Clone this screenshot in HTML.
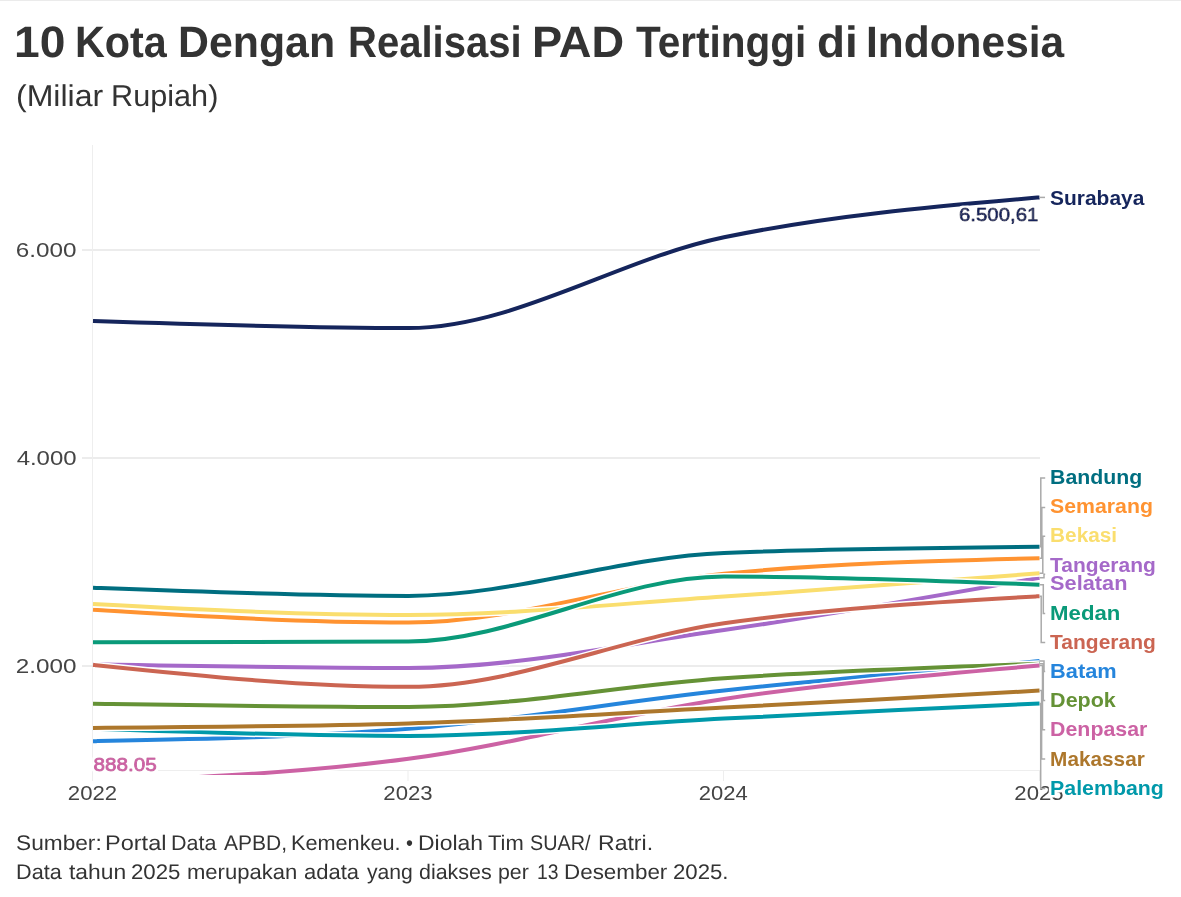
<!DOCTYPE html>
<html lang="id">
<head>
<meta charset="utf-8">
<title>10 Kota Dengan Realisasi PAD Tertinggi di Indonesia</title>
<style>
html,body{margin:0;padding:0;background:#fff;}
body{width:1181px;height:897px;overflow:hidden;position:relative;font-family:"Liberation Sans",sans-serif;color:#333;}
.topline{position:absolute;left:0;top:0;width:1181px;height:1px;background:#ebebeb;}
h1,.sub,.foot{text-rendering:geometricPrecision;position:absolute;margin:0;white-space:nowrap;transform-origin:0 0;color:#333;font-weight:normal;}
h1{font-weight:bold;}
h1 span,.sub span,.foot span{position:absolute;top:0;transform-origin:0 0;white-space:nowrap;}
svg{position:absolute;left:0;top:0;}
svg text{font-family:"Liberation Sans",sans-serif;}
.ax{font-size:20.8px;fill:#444;}
.lb{font-size:20.4px;font-weight:bold;paint-order:stroke;stroke:#fff;stroke-width:5px;stroke-linejoin:round;}
.vl{font-size:19px;font-weight:normal;stroke-width:0.9px;stroke-linejoin:round;filter:url(#halo);}
</style>
</head>
<body>
<div class="topline"></div>
<h1 style="left:0;top:16.79px;width:1181px;height:52px;font-size:43.9px;line-height:52px;"><span style="left:14.01px;transform:scaleX(1.0517)">10</span> <span style="left:74.62px;transform:scaleX(0.9412)">Kota</span> <span style="left:177.72px;transform:scaleX(0.9762)">Dengan</span> <span style="left:348.10px;transform:scaleX(0.9117)">Realisasi</span> <span style="left:531.67px;transform:scaleX(1.0298)">PAD</span> <span style="left:636.00px;transform:scaleX(0.9229)">Tertinggi</span> <span style="left:816.77px;transform:scaleX(1.0443)">di</span> <span style="left:865.85px;transform:scaleX(0.9672)">Indonesia</span></h1>
<p class="sub" style="left:0;top:78.57px;width:1181px;height:36px;font-size:30.1px;line-height:36px;"><span style="left:15.80px;transform:scaleX(1.0651)">(Miliar</span> <span style="left:110.60px;transform:scaleX(1.0187)">Rupiah)</span></p>
<svg width="1181" height="897" viewBox="0 0 1181 897">
<defs><filter id="halo" x="-10%" y="-20%" width="120%" height="140%"><feMorphology in="SourceAlpha" operator="dilate" radius="2" result="d"/><feFlood flood-color="#fff"/><feComposite in2="d" operator="in" result="h"/><feMerge><feMergeNode in="h"/><feMergeNode in="SourceGraphic"/></feMerge></filter><clipPath id="clip"><rect x="90" y="140" width="952" height="635"/></clipPath></defs>
<g fill="#ececec" shape-rendering="crispEdges">
<rect x="82" y="249" width="957.5" height="2"/>
<rect x="82" y="457" width="957.5" height="2"/>
<rect x="82" y="665" width="957.5" height="2"/>
<rect x="92" y="770" width="947.5" height="1" fill="#eeeeee"/>
<rect x="92" y="145" width="1" height="636" fill="#eeeeee"/>
<rect x="407.5" y="770" width="1" height="11" fill="#eeeeee" shape-rendering="auto"/>
<rect x="723" y="770" width="1" height="11" fill="#eeeeee"/>
<rect x="1039" y="770" width="1" height="11" fill="#eeeeee"/>
</g>
<g>
<text class="ax" transform="translate(15.86,257.0) scale(1.1670,1)">6.000</text>
<text class="ax" transform="translate(16.63,465.0) scale(1.1522,1)">4.000</text>
<text class="ax" transform="translate(15.86,673.0) scale(1.1670,1)">2.000</text>
<text class="ax" transform="translate(67.86,799.6) scale(1.0663,1)">2022</text>
<text class="ax" transform="translate(383.36,799.6) scale(1.0663,1)">2023</text>
<text class="ax" transform="translate(698.87,799.6) scale(1.0585,1)">2024</text>
<text class="ax" transform="translate(1014.36,799.6) scale(1.0663,1)">2025</text>
</g>
<g fill="none" stroke-linejoin="round" stroke-linecap="butt" clip-path="url(#clip)">
<path d="M93.0,321.1C198.2,324.6,303.3,328.1,408.5,328.1C513.7,328.1,618.8,259.1,724.0,237.3C829.2,215.5,934.3,206.5,1039.5,197.4" stroke="#fff" stroke-width="7"/>
<path d="M93.0,321.1C198.2,324.6,303.3,328.1,408.5,328.1C513.7,328.1,618.8,259.1,724.0,237.3C829.2,215.5,934.3,206.5,1039.5,197.4" stroke="#15255c" stroke-width="4"/>
<path d="M93.0,587.8C198.2,591.8,303.3,595.9,408.5,595.9C513.7,595.9,618.8,557.0,724.0,552.9C829.2,548.8,934.3,547.8,1039.5,546.8" stroke="#fff" stroke-width="7"/>
<path d="M93.0,587.8C198.2,591.8,303.3,595.9,408.5,595.9C513.7,595.9,618.8,557.0,724.0,552.9C829.2,548.8,934.3,547.8,1039.5,546.8" stroke="#006e80" stroke-width="4"/>
<path d="M93.0,664.2C198.2,666.1,303.3,668.0,408.5,668.0C513.7,668.0,618.8,645.0,724.0,630.0C829.2,615.0,934.3,596.3,1039.5,577.7" stroke="#fff" stroke-width="7"/>
<path d="M93.0,664.2C198.2,666.1,303.3,668.0,408.5,668.0C513.7,668.0,618.8,645.0,724.0,630.0C829.2,615.0,934.3,596.3,1039.5,577.7" stroke="#a569c9" stroke-width="4"/>
<path d="M93.0,609.8C198.2,616.2,303.3,622.6,408.5,622.6C513.7,622.6,618.8,584.0,724.0,573.7C829.2,563.4,934.3,560.8,1039.5,558.2" stroke="#fff" stroke-width="7"/>
<path d="M93.0,609.8C198.2,616.2,303.3,622.6,408.5,622.6C513.7,622.6,618.8,584.0,724.0,573.7C829.2,563.4,934.3,560.8,1039.5,558.2" stroke="#ff9331" stroke-width="4"/>
<path d="M93.0,603.9C198.2,609.5,303.3,615.0,408.5,615.0C513.7,615.0,618.8,603.5,724.0,596.5C829.2,589.5,934.3,581.4,1039.5,573.3" stroke="#fff" stroke-width="7"/>
<path d="M93.0,603.9C198.2,609.5,303.3,615.0,408.5,615.0C513.7,615.0,618.8,603.5,724.0,596.5C829.2,589.5,934.3,581.4,1039.5,573.3" stroke="#fade6e" stroke-width="4"/>
<path d="M93.0,642.3C198.2,642.2,303.3,642.0,408.5,641.5C513.7,641.0,618.8,576.5,724.0,576.5C829.2,576.5,934.3,580.6,1039.5,584.7" stroke="#fff" stroke-width="7"/>
<path d="M93.0,642.3C198.2,642.2,303.3,642.0,408.5,641.5C513.7,641.0,618.8,576.5,724.0,576.5C829.2,576.5,934.3,580.6,1039.5,584.7" stroke="#0a9a79" stroke-width="4"/>
<path d="M93.0,664.9C198.2,675.8,303.3,686.8,408.5,686.8C513.7,686.8,618.8,638.3,724.0,623.2C829.2,608.1,934.3,602.2,1039.5,596.2" stroke="#fff" stroke-width="7"/>
<path d="M93.0,664.9C198.2,675.8,303.3,686.8,408.5,686.8C513.7,686.8,618.8,638.3,724.0,623.2C829.2,608.1,934.3,602.2,1039.5,596.2" stroke="#cb6552" stroke-width="4"/>
<path d="M93.0,741.2C198.2,739.1,303.3,737.1,408.5,728.8C513.7,720.5,618.8,701.8,724.0,690.5C829.2,679.2,934.3,670.2,1039.5,661.1" stroke="#fff" stroke-width="7"/>
<path d="M93.0,741.2C198.2,739.1,303.3,737.1,408.5,728.8C513.7,720.5,618.8,701.8,724.0,690.5C829.2,679.2,934.3,670.2,1039.5,661.1" stroke="#2585dc" stroke-width="4"/>
<path d="M93.0,703.8C198.2,705.3,303.3,706.9,408.5,706.9C513.7,706.9,618.8,685.4,724.0,678.2C829.2,671.0,934.3,667.4,1039.5,663.8" stroke="#fff" stroke-width="7"/>
<path d="M93.0,703.8C198.2,705.3,303.3,706.9,408.5,706.9C513.7,706.9,618.8,685.4,724.0,678.2C829.2,671.0,934.3,667.4,1039.5,663.8" stroke="#659236" stroke-width="4"/>
<path d="M93.0,782.2C198.2,777.4,303.3,772.7,408.5,758.8C513.7,744.9,618.8,714.4,724.0,698.9C829.2,683.4,934.3,674.5,1039.5,665.6" stroke="#fff" stroke-width="7"/>
<path d="M93.0,782.2C198.2,777.4,303.3,772.7,408.5,758.8C513.7,744.9,618.8,714.4,724.0,698.9C829.2,683.4,934.3,674.5,1039.5,665.6" stroke="#cc62a4" stroke-width="4"/>
<path d="M93.0,728.8C198.2,732.4,303.3,735.9,408.5,735.9C513.7,735.9,618.8,724.0,724.0,718.6C829.2,713.2,934.3,708.3,1039.5,703.4" stroke="#fff" stroke-width="7"/>
<path d="M93.0,728.8C198.2,732.4,303.3,735.9,408.5,735.9C513.7,735.9,618.8,724.0,724.0,718.6C829.2,713.2,934.3,708.3,1039.5,703.4" stroke="#0099aa" stroke-width="4"/>
<path d="M93.0,727.9C198.2,727.1,303.3,726.4,408.5,723.4C513.7,720.4,618.8,713.1,724.0,707.6C829.2,702.1,934.3,696.4,1039.5,690.6" stroke="#fff" stroke-width="7"/>
<path d="M93.0,727.9C198.2,727.1,303.3,726.4,408.5,723.4C513.7,720.4,618.8,713.1,724.0,707.6C829.2,702.1,934.3,696.4,1039.5,690.6" stroke="#ad772c" stroke-width="4"/>
</g>
<g fill="none" stroke="#aaaaaa" stroke-width="1.5">
<path d="M1039.5,197.4H1045"/>
<path d="M1039.5,546.8H1040.8V478.1H1045.2"/>
<path d="M1039.5,558.2H1041.8V507.4H1045.2"/>
<path d="M1039.5,573.3H1042.8V536.3H1045.2"/>
<path d="M1039.5,577.7H1044.0V574.2H1045.2"/>
<path d="M1039.5,584.7H1043.3V613.5H1045.2"/>
<path d="M1039.5,596.2H1041.2V642.6H1045.2"/>
<path d="M1039.5,661.1H1044.0V671.6H1045.2"/>
<path d="M1039.5,663.8H1043.3V700.6H1045.2"/>
<path d="M1039.5,665.6H1042.5V729.7H1045.2"/>
<path d="M1039.5,690.6H1041.6V759.0H1045.2"/>
<path d="M1039.5,703.4H1040.7V788.5H1045.2"/>
</g>
<text class="vl" transform="translate(959.04,220.9) scale(1.0733,1)" fill="#15255c" stroke="#15255c">6.500,61</text>
<text class="vl" transform="translate(93.55,770.6) scale(1.0872,1)" fill="#cc62a4" stroke="#cc62a4">888.05</text>
<text class="lb" transform="translate(1050.10,204.6) scale(1.0263,1)" fill="#15255c">Surabaya</text>
<text class="lb" transform="translate(1050.10,484.2) scale(1.0427,1)" fill="#006e80">Bandung</text>
<text class="lb" transform="translate(1050.10,513.1) scale(1.0428,1)" fill="#ff9331">Semarang</text>
<text class="lb" transform="translate(1050.10,542.1) scale(1.0189,1)" fill="#fade6e">Bekasi</text>
<text class="lb" transform="translate(1050.10,571.6) scale(1.0290,1)" fill="#a569c9">Tangerang</text>
<text class="lb" transform="translate(1050.10,589.8) scale(1.0660,1)" fill="#a569c9">Selatan</text>
<text class="lb" transform="translate(1050.10,619.5) scale(1.0877,1)" fill="#0a9a79">Medan</text>
<text class="lb" transform="translate(1050.10,648.9) scale(1.0290,1)" fill="#cb6552">Tangerang</text>
<text class="lb" transform="translate(1050.10,677.8) scale(1.0686,1)" fill="#2585dc">Batam</text>
<text class="lb" transform="translate(1050.10,706.7) scale(1.0548,1)" fill="#659236">Depok</text>
<text class="lb" transform="translate(1050.10,736.0) scale(1.0465,1)" fill="#cc62a4">Denpasar</text>
<text class="lb" transform="translate(1050.10,765.5) scale(1.0182,1)" fill="#ad772c">Makassar</text>
<text class="lb" transform="translate(1050.10,794.6) scale(1.0462,1)" fill="#0099aa">Palembang</text>
</svg>
<div class="foot" style="left:0;top:829.19px;width:1181px;height:29px;font-size:21.1px;line-height:29px;"><span style="left:15.69px;transform:scaleX(1.0754)">Sumber:</span> <span style="left:104.56px;transform:scaleX(1.1156)">Portal</span> <span style="left:171.22px;transform:scaleX(1.0196)">Data</span> <span style="left:223.70px;transform:scaleX(0.9960)">APBD,</span> <span style="left:291.01px;transform:scaleX(1.0273)">Kemenkeu.</span> <span style="left:405.68px;transform:scaleX(0.9437)">•</span> <span style="left:417.91px;transform:scaleX(1.0880)">Diolah</span> <span style="left:487.86px;transform:scaleX(1.0410)">Tim</span> <span style="left:529.98px;transform:scaleX(0.9374)">SUAR/</span> <span style="left:597.80px;transform:scaleX(1.0927)">Ratri.</span></div>
<div class="foot" style="left:0;top:858.19px;width:1181px;height:29px;font-size:21.1px;line-height:29px;"><span style="left:15.81px;transform:scaleX(1.0266)">Data</span> <span style="left:68.70px;transform:scaleX(1.0830)">tahun</span> <span style="left:131.36px;transform:scaleX(1.0533)">2025</span> <span style="left:187.42px;transform:scaleX(1.0450)">merupakan</span> <span style="left:303.91px;transform:scaleX(1.0425)">adata</span> <span style="left:366.60px;transform:scaleX(1.0029)">yang</span> <span style="left:419.03px;transform:scaleX(1.0153)">diakses</span> <span style="left:497.97px;transform:scaleX(1.0112)">per</span> <span style="left:537.29px;transform:scaleX(0.9157)">13</span> <span style="left:564.35px;transform:scaleX(1.0620)">Desember</span> <span style="left:672.76px;transform:scaleX(1.0520)">2025.</span></div>
</body>
</html>
